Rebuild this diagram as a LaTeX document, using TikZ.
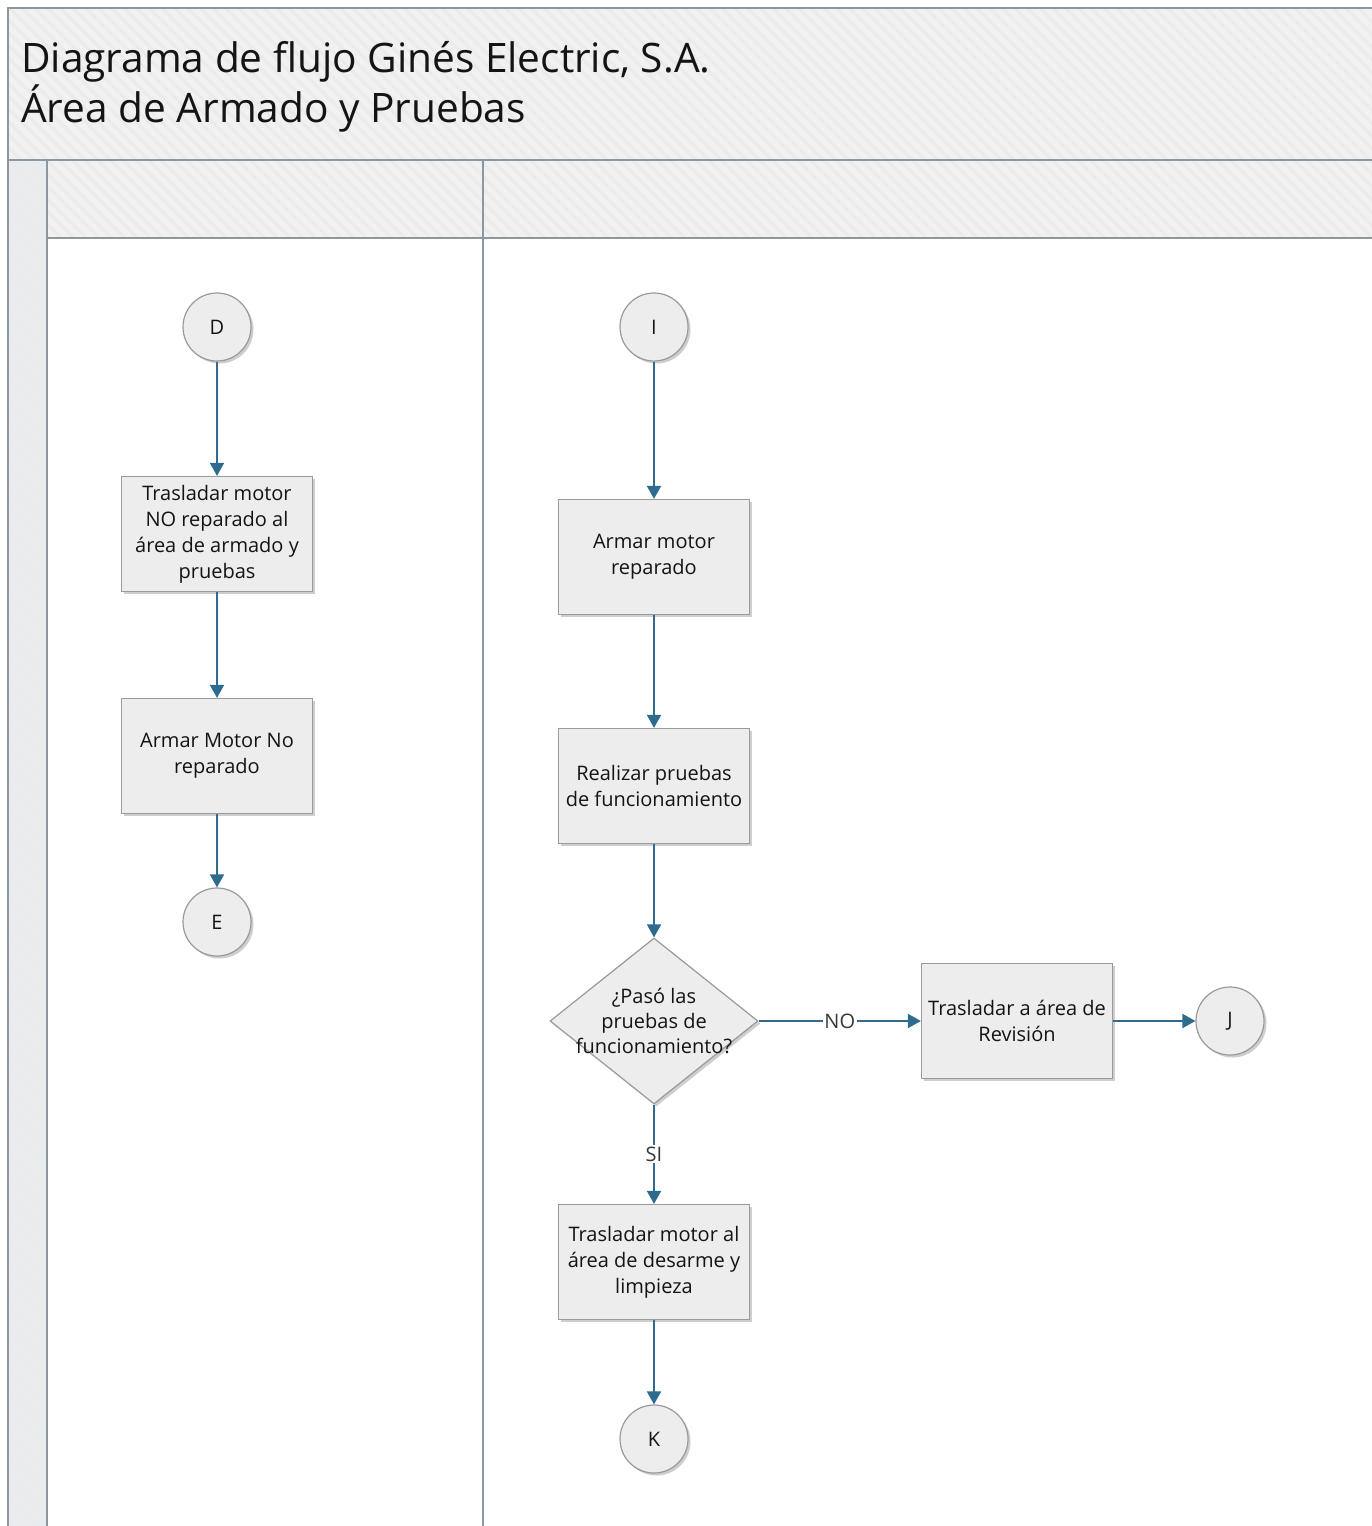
\documentclass[tikz,border=0pt]{standalone}
\usepackage{fontspec}
\setmainfont{Open Sans}
\usetikzlibrary{arrows.meta,shapes.geometric,shadows,patterns.meta}

\definecolor{linkblue}{HTML}{2F6B8F}
\definecolor{boxfill}{HTML}{EDEDED}
\definecolor{boxline}{HTML}{9A9A9A}
\definecolor{bandfill}{HTML}{F1F1F1}
\definecolor{bandhatch}{HTML}{EBEBEB}
\definecolor{stripfill}{HTML}{E9EDF0}
\definecolor{frameline}{HTML}{8C979F}
\definecolor{ink}{HTML}{141414}

\begin{document}
\begin{tikzpicture}[x=1pt,y=-1pt,
  shade/.style={drop shadow={shadow xshift=2.5pt,shadow yshift=-2.5pt,opacity=0.35,fill=black!55}},
  proc/.style={shade,draw=boxline,line width=1.2pt,fill=boxfill,
    minimum width=191pt,minimum height=115pt,align=center,
    font=\fontsize{20}{26}\selectfont,text=ink,inner sep=2pt},
  conn/.style={shade,circle,draw=boxline,line width=1.2pt,fill=boxfill,
    minimum size=68pt,inner sep=0pt,font=\fontsize{20}{22}\selectfont,text=ink},
  decis/.style={shade,diamond,draw=boxline,line width=1.2pt,fill=boxfill,
    minimum width=208pt,minimum height=166pt,inner sep=0pt},
  dtext/.style={align=center,font=\fontsize{20}{25}\selectfont,text=ink},
  arr/.style={draw=linkblue,line width=1.8pt,-{Triangle[width=14pt,length=13pt]}},
  tag/.style={fill=white,inner sep=1.5pt,font=\fontsize{20}{22}\selectfont,text=ink!85},
  frame/.style={draw=frameline,line width=2pt},
  band/.style={preaction={fill=bandfill},pattern={Lines[angle=-45,distance=9pt,line width=3pt]},pattern color=bandhatch},
  strip/.style={preaction={fill=stripfill},pattern={Lines[angle=-45,distance=9pt,line width=3pt]},pattern color=bandhatch}
]
\useasboundingbox (0,0) rectangle (1372,1526);
\fill[white] (0,0) rectangle (1372,1526);

% pool title band, lane headers and the side strip
\path[band] (8,8) rectangle (1372,160);
\path[band] (47,160) rectangle (1372,238);
\path[strip] (8,160) rectangle (47,1526);

% pool frame and lane dividers
\draw[frame] (1372,8) -- (8,8) -- (8,1526);
\draw[frame] (8,160) -- (1372,160);
\draw[frame] (47,160) -- (47,1526);
\draw[frame] (47,238) -- (1372,238);
\draw[frame] (483,160) -- (483,1526);

% title
\node[anchor=base west,inner sep=0pt,font=\fontsize{40.6}{50}\selectfont,text=ink] (title1) at (21,72) {Diagrama de flujo Ginés Electric, S.A.};
\node[anchor=base west,inner sep=0pt,font=\fontsize{40.6}{50}\selectfont,text=ink] (title2) at (21,122) {Área de Armado y Pruebas};

% left lane
\node[conn] (d) at (217,327) {D};
\node[proc] (t1) at (217,534) {Trasladar motor\\NO reparado al\\área de armado y\\pruebas};
\node[proc] (a1) at (217,756) {Armar Motor No\\reparado};
\node[conn] (e) at (217,922) {E};

% right lane
\node[conn] (i) at (654,327) {I};
\node[proc] (a2) at (654,557) {Armar motor\\reparado};
\node[proc] (p) at (654,786) {Realizar pruebas\\de funcionamiento};
\node[decis] (q) at (654,1021) {};
\node[dtext] (qt) at (q.center) {¿Pasó las\\pruebas de\\funcionamiento?};
\node[proc] (r) at (1017,1021) {Trasladar a área de\\Revisión};
\node[conn] (j) at (1230,1021) {J};
\node[proc] (t2) at (654,1262) {Trasladar motor al\\área de desarme y\\limpieza};
\node[conn] (k) at (654,1439) {K};

% connectors
\draw[arr] (d) -- (t1);
\draw[arr] (t1) -- (a1);
\draw[arr] (a1) -- (e);
\draw[arr] (i) -- (a2);
\draw[arr] (a2) -- (p);
\draw[arr] (p) -- (q.north);
\draw[arr] (q.east) -- node[tag] {NO} (r);
\draw[arr] (r) -- (j);
\draw[arr] (q.south) -- node[tag] {SI} (t2);
\draw[arr] (t2) -- (k);
\end{tikzpicture}
\end{document}
